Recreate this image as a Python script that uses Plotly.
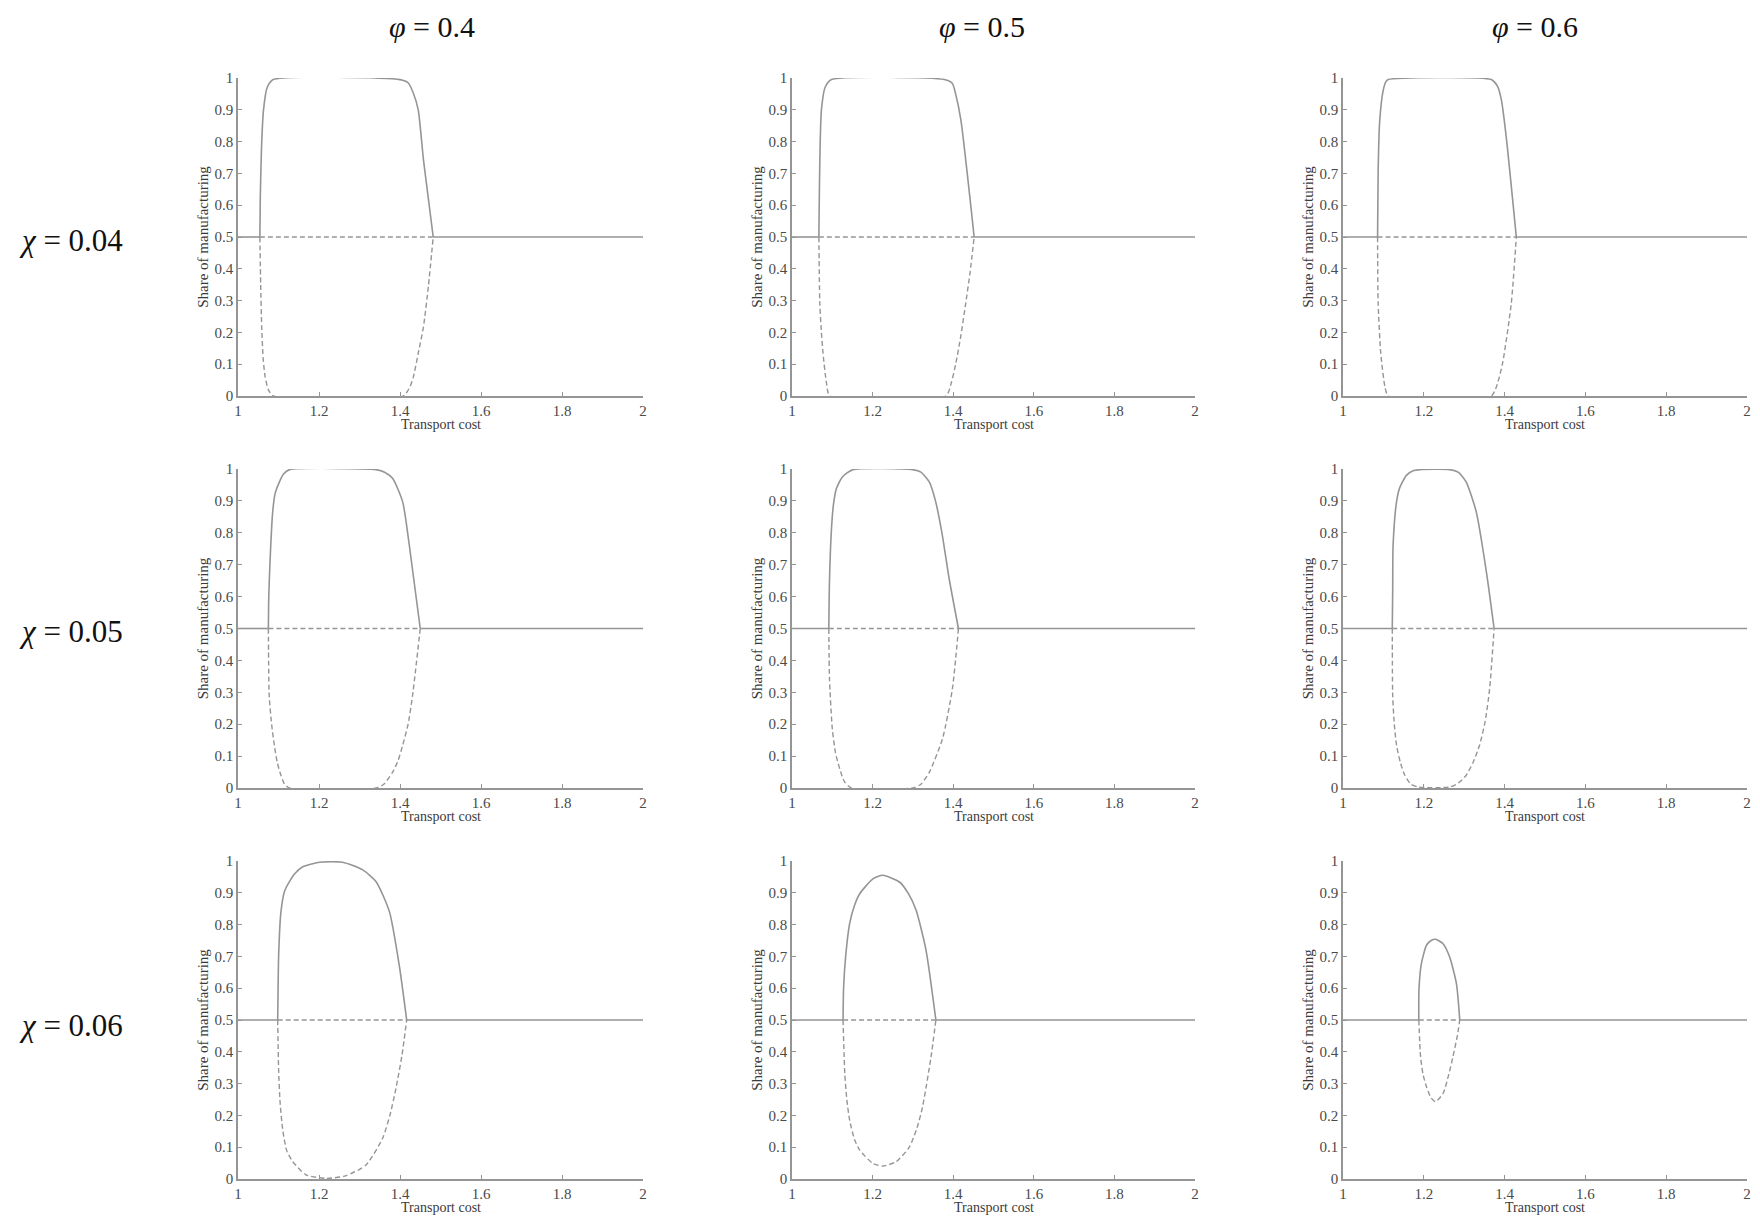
import plotly.graph_objects as go
from plotly.subplots import make_subplots

# column / row parameters
phis = [0.4, 0.5, 0.6]
chis = [0.04, 0.05, 0.06]

x_ticks = [1, 1.2, 1.4, 1.6, 1.8, 2]
y_ticks = [0, 0.1, 0.2, 0.3, 0.4, 0.5, 0.6, 0.7, 0.8, 0.9, 1]

# chi = 0.04
up_x_004_04 = [1.054, 1.055, 1.058, 1.063, 1.072, 1.087, 1.40, 1.42, 1.433, 1.445, 1.458, 1.482]
up_y_004_04 = [0.50, 0.62, 0.78, 0.90, 0.97, 0.995, 0.995, 0.985, 0.952, 0.90, 0.742, 0.50]
lo_x_004_04 = [1.054, 1.056, 1.0585, 1.062, 1.067, 1.075, 1.087, 1.408, 1.425, 1.433, 1.445, 1.458, 1.47, 1.482]
lo_y_004_04 = [0.50, 0.35, 0.218, 0.12, 0.06, 0.02, 0.0, 0.0, 0.03, 0.06, 0.134, 0.218, 0.344, 0.50]

up_x_004_05 = [1.0667, 1.068, 1.070, 1.073, 1.082, 1.098, 1.378, 1.398, 1.4066, 1.419, 1.452]
up_y_004_05 = [0.50, 0.65, 0.80, 0.90, 0.97, 0.995, 0.995, 0.983, 0.947, 0.868, 0.50]
lo_x_004_05 = [1.0667, 1.069, 1.073, 1.077, 1.0856, 1.094, 1.382, 1.395, 1.4066, 1.419, 1.431, 1.442, 1.452]
lo_y_004_05 = [0.50, 0.291, 0.20, 0.134, 0.04, 0.0, 0.0, 0.04, 0.103, 0.19, 0.291, 0.39, 0.50]

up_x_004_06 = [1.0856, 1.087, 1.091, 1.0996, 1.106, 1.112, 1.367, 1.382, 1.392, 1.404, 1.429]
up_y_004_06 = [0.50, 0.71, 0.868, 0.962, 0.988, 0.995, 0.995, 0.975, 0.931, 0.815, 0.50]
lo_x_004_06 = [1.0856, 1.087, 1.0935, 1.1037, 1.112, 1.367, 1.38, 1.395, 1.4165, 1.429]
lo_y_004_06 = [0.50, 0.291, 0.134, 0.03, 0.0, 0.0, 0.03, 0.103, 0.291, 0.50]

# chi = 0.05
up_x_005_04 = [1.075, 1.076, 1.079, 1.0856, 1.092, 1.102, 1.113, 1.127, 1.341, 1.362, 1.382, 1.4066, 1.423, 1.450]
up_y_005_04 = [0.50, 0.60, 0.708, 0.865, 0.925, 0.959, 0.985, 0.998, 0.998, 0.99, 0.97, 0.897, 0.761, 0.50]
lo_x_005_04 = [1.075, 1.077, 1.083, 1.0897, 1.097, 1.106, 1.115, 1.127, 1.341, 1.36, 1.382, 1.395, 1.4066, 1.42, 1.431, 1.450]
lo_y_005_04 = [0.50, 0.29, 0.20, 0.134, 0.08, 0.04, 0.012, 0.0, 0.0, 0.012, 0.05, 0.085, 0.134, 0.20, 0.29, 0.50]

up_x_005_05 = [1.0914, 1.093, 1.098, 1.103, 1.110, 1.125, 1.151, 1.2996, 1.32, 1.341, 1.356, 1.372, 1.390, 1.413]
up_y_005_05 = [0.50, 0.65, 0.813, 0.89, 0.938, 0.975, 0.998, 0.998, 0.99, 0.959, 0.90, 0.80, 0.656, 0.50]
lo_x_005_05 = [1.0914, 1.093, 1.10, 1.108, 1.1185, 1.13, 1.147, 1.2996, 1.32, 1.341, 1.3736, 1.398, 1.413]
lo_y_005_05 = [0.50, 0.343, 0.186, 0.11, 0.06, 0.02, 0.0, 0.0, 0.012, 0.05, 0.155, 0.311, 0.50]

up_x_005_06 = [1.122, 1.123, 1.124, 1.1325, 1.14, 1.157, 1.175, 1.190, 1.264, 1.285, 1.305, 1.330, 1.355, 1.374]
up_y_005_06 = [0.50, 0.62, 0.761, 0.897, 0.94, 0.98, 0.995, 0.998, 0.998, 0.99, 0.959, 0.865, 0.677, 0.50]
lo_x_005_06 = [1.122, 1.123, 1.127, 1.1325, 1.142, 1.153, 1.168, 1.186, 1.264, 1.285, 1.305, 1.322, 1.338, 1.352, 1.363, 1.374]
lo_y_005_06 = [0.50, 0.29, 0.20, 0.134, 0.08, 0.04, 0.012, 0.003, 0.003, 0.015, 0.04, 0.08, 0.134, 0.21, 0.311, 0.50]

# chi = 0.06
up_x_006_04 = [1.098, 1.099, 1.1004, 1.106, 1.115, 1.127, 1.140, 1.160, 1.2008, 1.258, 1.308, 1.341, 1.374, 1.398, 1.4165]
up_y_006_04 = [0.50, 0.60, 0.704, 0.84, 0.905, 0.935, 0.96, 0.982, 0.996, 0.996, 0.972, 0.935, 0.84, 0.673, 0.50]
lo_x_006_04 = [1.098, 1.1004, 1.104, 1.110, 1.120, 1.135, 1.168, 1.217, 1.266, 1.316, 1.357, 1.375, 1.390, 1.405, 1.4165]
lo_y_006_04 = [0.50, 0.338, 0.24, 0.159, 0.09, 0.055, 0.013, 0.002, 0.01, 0.044, 0.128, 0.20, 0.285, 0.39, 0.50]

up_x_006_05 = [1.1267, 1.128, 1.133, 1.143, 1.155, 1.168, 1.2008, 1.2255, 1.2667, 1.29, 1.308, 1.3325, 1.357]
up_y_006_05 = [0.50, 0.60, 0.698, 0.803, 0.86, 0.897, 0.944, 0.955, 0.934, 0.895, 0.845, 0.72, 0.50]
lo_x_006_05 = [1.1267, 1.131, 1.136, 1.143, 1.155, 1.168, 1.2008, 1.2255, 1.258, 1.291, 1.31, 1.324, 1.345, 1.357]
lo_y_006_05 = [0.50, 0.332, 0.25, 0.185, 0.125, 0.091, 0.049, 0.041, 0.054, 0.10, 0.16, 0.227, 0.384, 0.50]

up_x_006_06 = [1.1877, 1.188, 1.194, 1.2066, 1.218, 1.229, 1.2477, 1.264, 1.2807, 1.289]
up_y_006_06 = [0.50, 0.594, 0.677, 0.735, 0.75, 0.754, 0.74, 0.698, 0.615, 0.50]
lo_x_006_06 = [1.1877, 1.192, 1.198, 1.2066, 1.218, 1.229, 1.2477, 1.262, 1.272, 1.283, 1.289]
lo_y_006_06 = [0.50, 0.384, 0.33, 0.29, 0.255, 0.243, 0.269, 0.33, 0.384, 0.45, 0.50]

panels = [
    [(up_x_004_04, up_y_004_04, lo_x_004_04, lo_y_004_04),
     (up_x_004_05, up_y_004_05, lo_x_004_05, lo_y_004_05),
     (up_x_004_06, up_y_004_06, lo_x_004_06, lo_y_004_06)],
    [(up_x_005_04, up_y_005_04, lo_x_005_04, lo_y_005_04),
     (up_x_005_05, up_y_005_05, lo_x_005_05, lo_y_005_05),
     (up_x_005_06, up_y_005_06, lo_x_005_06, lo_y_005_06)],
    [(up_x_006_04, up_y_006_04, lo_x_006_04, lo_y_006_04),
     (up_x_006_05, up_y_006_05, lo_x_006_05, lo_y_006_05),
     (up_x_006_06, up_y_006_06, lo_x_006_06, lo_y_006_06)],
]

# page body has an 8px margin, so the figure is drawn 8px in from the window edge;
# it reaches the bottom of the window (the extra 8px margin just falls outside it)
OFF = 8
W, H = 1760 - 2 * OFF, 1218 - OFF
col_px = [(238, 643), (792, 1195), (1343, 1747)]
row_px = [(78, 396), (469, 788), (861, 1179)]
col_title_px = [432, 982, 1535]
row_label_py = [241, 631, 1025]

LINE = '#959595'
FONT = 'Liberation Serif'


def px_x(p):
    return (p - OFF) / W


def px_y(p):
    return 1 - (p - OFF) / H


fig = make_subplots(rows=3, cols=3)

for r in range(3):
    for c in range(3):
        ux, uy, lx, ly = panels[r][c]
        x_left, x_right = ux[0], ux[-1]
        # stable symmetric branch (solid) outside the loop
        fig.add_trace(go.Scatter(x=[1, x_left], y=[0.5, 0.5], mode='lines',
                                 line=dict(color=LINE, width=1.6)), row=r + 1, col=c + 1)
        fig.add_trace(go.Scatter(x=[x_right, 2], y=[0.5, 0.5], mode='lines',
                                 line=dict(color=LINE, width=1.6)), row=r + 1, col=c + 1)
        # unstable symmetric branch (dashed)
        fig.add_trace(go.Scatter(x=[x_left, x_right], y=[0.5, 0.5], mode='lines',
                                 line=dict(color=LINE, width=1.4, dash='5px,3px')), row=r + 1, col=c + 1)
        # upper stable branch
        fig.add_trace(go.Scatter(x=ux, y=uy, mode='lines',
                                 line=dict(color=LINE, width=1.6, shape='spline', smoothing=0.6)),
                      row=r + 1, col=c + 1)
        # lower unstable branch
        fig.add_trace(go.Scatter(x=lx, y=ly, mode='lines',
                                 line=dict(color=LINE, width=1.4, dash='5px,3px', shape='spline', smoothing=0.6)),
                      row=r + 1, col=c + 1)

for i in range(9):
    r, c = i // 3, i % 3
    sfx = '' if i == 0 else str(i + 1)
    x0, x1 = col_px[c]
    y0, y1 = row_px[r]
    fig.layout['xaxis' + sfx].update(
        domain=[px_x(x0), px_x(x1)], range=[1, 2], tickvals=x_ticks, ticktext=[f'{v:g}' for v in x_ticks],
        showline=True, linecolor=LINE, linewidth=1.5, mirror=False, showgrid=False, zeroline=False,
        ticks='inside', ticklen=4, tickcolor=LINE, automargin=False,
        tickfont=dict(family=FONT, size=15, color='#4a4a4a'),
    )
    fig.layout['yaxis' + sfx].update(
        domain=[px_y(y1), px_y(y0)], range=[0, 1], tickvals=y_ticks, ticktext=[f'{v:g}' for v in y_ticks],
        showline=True, linecolor=LINE, linewidth=1.5, mirror=False, showgrid=False, zeroline=False,
        ticks='inside', ticklen=4, tickcolor=LINE, automargin=False,
        tickfont=dict(family=FONT, size=15, color='#4a4a4a'),
        title=dict(text='Share of manufacturing', font=dict(family=FONT, size=15, color='#3a3a3a'), standoff=2),
    )
    # x-axis title as a paper annotation just under the tick labels
    fig.add_annotation(x=px_x((x0 + x1) / 2), y=px_y(y1 + 28), xref='paper', yref='paper',
                       xanchor='center', yanchor='middle', showarrow=False,
                       text='Transport cost', font=dict(family=FONT, size=14, color='#3a3a3a'))

for c, phi in enumerate(phis):
    fig.add_annotation(x=px_x(col_title_px[c]), y=px_y(27), xref='paper', yref='paper',
                       xanchor='center', yanchor='middle',
                       text=f'<i>φ</i> = {phi}', showarrow=False,
                       font=dict(family=FONT, size=30, color='#111'))
for r, chi in enumerate(chis):
    fig.add_annotation(x=px_x(71), y=px_y(row_label_py[r]), xref='paper', yref='paper',
                       xanchor='center', yanchor='middle',
                       text=f'<i>χ</i> = {chi}', showarrow=False,
                       font=dict(family=FONT, size=31, color='#111'))

fig.update_layout(
    width=W, height=H,
    margin=dict(l=0, r=0, t=0, b=0, autoexpand=False),
    paper_bgcolor='white', plot_bgcolor='white',
    showlegend=False,
)

fig.write_html("out.html")
